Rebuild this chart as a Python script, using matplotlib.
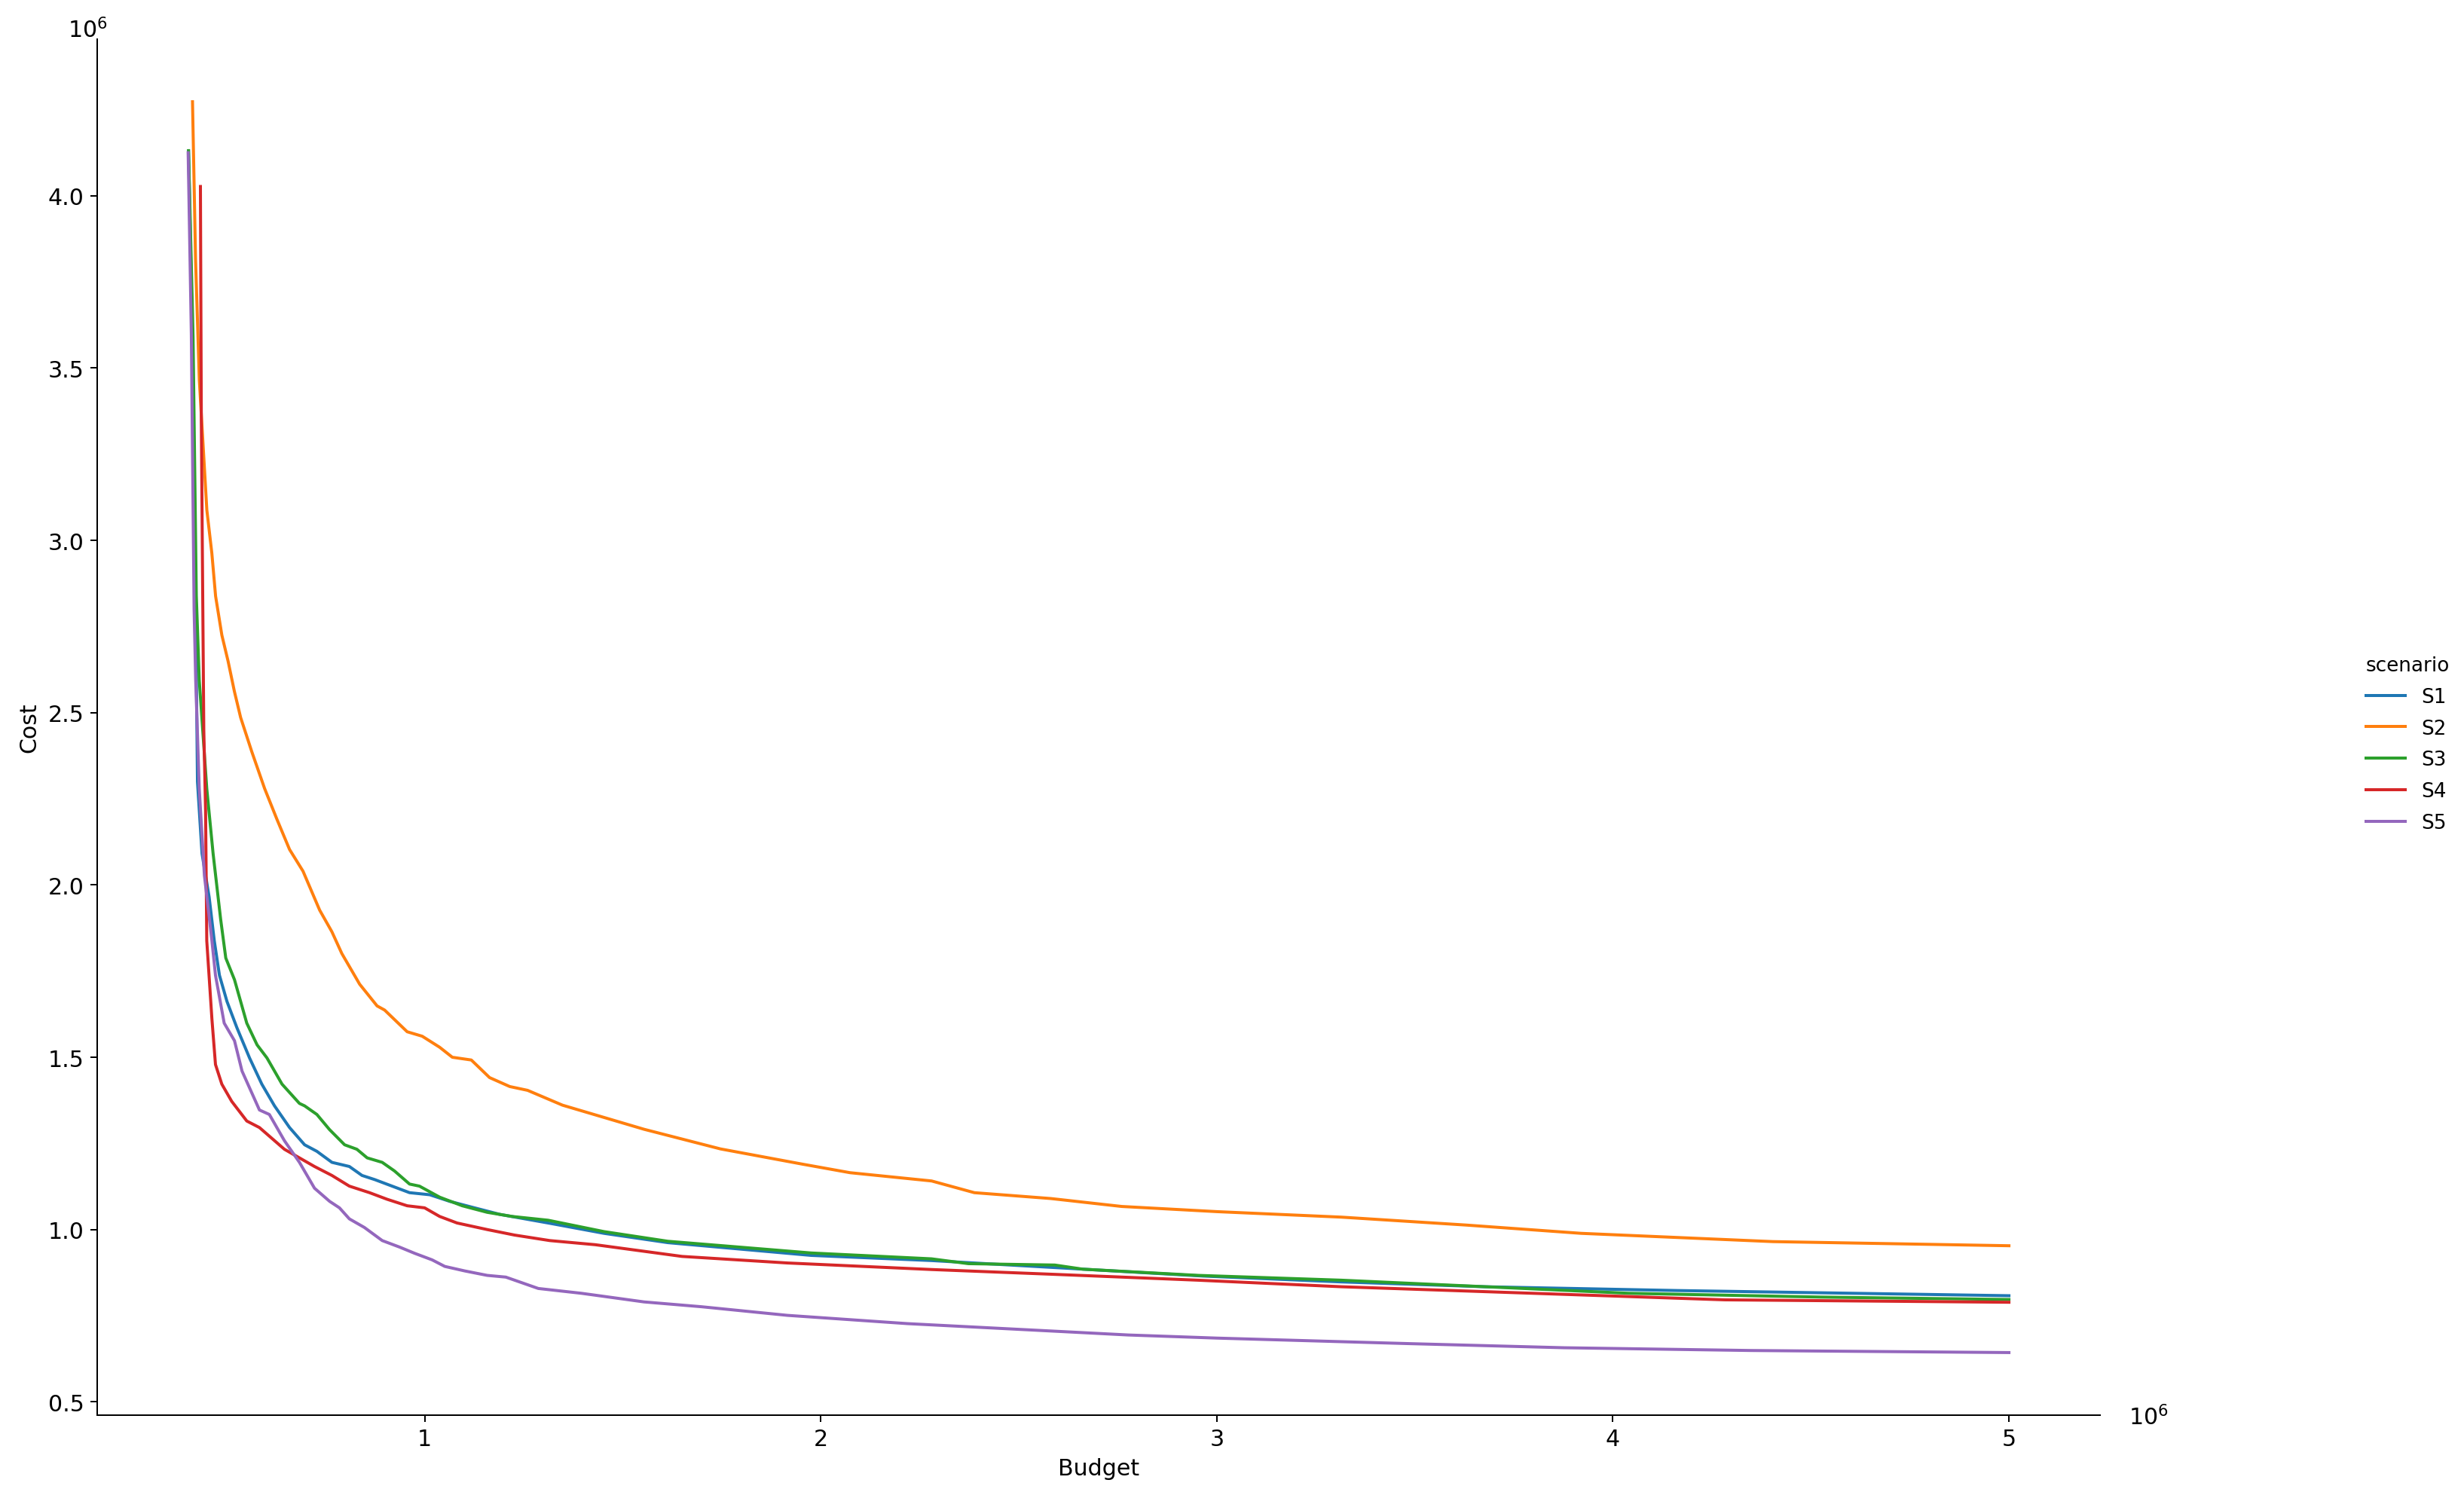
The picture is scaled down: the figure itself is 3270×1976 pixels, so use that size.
import matplotlib
matplotlib.use("Agg")
import matplotlib.pyplot as plt

# Budget / Cost values in millions
s1_budget = [0.404, 0.4135, 0.4217, 0.4265, 0.438, 0.456, 0.469, 0.482, 0.501, 0.526, 0.558, 0.589,
             0.621, 0.659, 0.697, 0.728, 0.766, 0.810, 0.842, 0.874, 0.918, 0.962, 1.013, 1.063,
             1.126, 1.190, 1.317, 1.453, 1.614, 1.976, 2.280, 2.617, 2.966, 3.315, 3.679, 4.163, 5.000]
s1_cost = [4.130, 3.59, 2.84, 2.30, 2.091, 1.965, 1.838, 1.738, 1.662, 1.586, 1.498, 1.422,
           1.359, 1.296, 1.246, 1.227, 1.195, 1.183, 1.157, 1.145, 1.126, 1.107, 1.101, 1.082,
           1.063, 1.044, 1.018, 0.989, 0.962, 0.925, 0.910, 0.888, 0.865, 0.848, 0.834, 0.823, 0.808]

s2_budget = [0.414, 0.4217, 0.4312, 0.4407, 0.4502, 0.4628, 0.4723, 0.4881, 0.5039, 0.5197, 0.5355,
             0.5639, 0.596, 0.627, 0.659, 0.693, 0.735, 0.766, 0.791, 0.836, 0.880, 0.899, 0.956,
             0.994, 1.038, 1.070, 1.118, 1.164, 1.215, 1.260, 1.348, 1.554, 1.747, 1.953, 2.074,
             2.280, 2.388, 2.581, 2.760, 3.000, 3.315, 3.630, 3.920, 4.404, 5.000]
s2_cost = [4.273, 3.816, 3.465, 3.277, 3.088, 2.963, 2.838, 2.725, 2.649, 2.562, 2.486,
           2.386, 2.280, 2.191, 2.103, 2.040, 1.927, 1.864, 1.801, 1.712, 1.649, 1.637, 1.574,
           1.561, 1.529, 1.500, 1.492, 1.441, 1.415, 1.404, 1.361, 1.291, 1.234, 1.190, 1.165,
           1.141, 1.107, 1.090, 1.067, 1.052, 1.036, 1.013, 0.989, 0.965, 0.953]

s3_budget = [0.404, 0.4154, 0.4236, 0.431, 0.450, 0.466, 0.485, 0.498, 0.520, 0.551, 0.577, 0.602,
             0.640, 0.684, 0.697, 0.728, 0.760, 0.798, 0.829, 0.855, 0.893, 0.924, 0.962, 0.987,
             1.038, 1.095, 1.158, 1.221, 1.312, 1.453, 1.614, 1.976, 2.280, 2.373, 2.591, 2.662,
             2.953, 3.315, 3.679, 4.041, 4.525, 5.000]
s3_cost = [4.131, 3.59, 2.84, 2.595, 2.280, 2.091, 1.901, 1.788, 1.725, 1.599, 1.536, 1.498,
           1.422, 1.366, 1.359, 1.334, 1.290, 1.246, 1.233, 1.208, 1.195, 1.170, 1.132, 1.126,
           1.094, 1.069, 1.050, 1.038, 1.027, 0.994, 0.966, 0.932, 0.915, 0.901, 0.897, 0.885,
           0.867, 0.853, 0.834, 0.815, 0.804, 0.797]

s4_budget = [0.434, 0.4363, 0.4425, 0.447, 0.450, 0.463, 0.472, 0.488, 0.513, 0.551, 0.583, 0.621,
             0.646, 0.684, 0.722, 0.766, 0.810, 0.861, 0.905, 0.956, 1.000, 1.038, 1.082, 1.158,
             1.227, 1.316, 1.431, 1.650, 1.916, 2.280, 2.590, 2.953, 3.315, 3.799, 4.283, 5.000]
s4_cost = [4.027, 3.34, 2.45, 2.217, 1.838, 1.611, 1.479, 1.422, 1.372, 1.315, 1.296, 1.258,
           1.233, 1.208, 1.183, 1.157, 1.126, 1.107, 1.088, 1.069, 1.063, 1.038, 1.019, 1.000,
           0.984, 0.968, 0.956, 0.922, 0.903, 0.884, 0.870, 0.853, 0.834, 0.815, 0.796, 0.789]

s5_budget = [0.403, 0.411, 0.418, 0.422, 0.431, 0.444, 0.463, 0.472, 0.494, 0.520, 0.539, 0.583,
             0.608, 0.646, 0.684, 0.722, 0.760, 0.785, 0.810, 0.848, 0.893, 0.937, 0.975, 1.019,
             1.051, 1.101, 1.158, 1.205, 1.287, 1.396, 1.554, 1.699, 1.916, 2.219, 2.642, 2.777,
             3.000, 3.484, 3.877, 4.349, 5.000]
s5_cost = [4.125, 3.60, 2.80, 2.595, 2.280, 2.028, 1.838, 1.738, 1.599, 1.548, 1.460, 1.347,
           1.334, 1.258, 1.195, 1.120, 1.082, 1.063, 1.031, 1.006, 0.968, 0.949, 0.931, 0.912,
           0.893, 0.880, 0.867, 0.862, 0.829, 0.815, 0.790, 0.776, 0.751, 0.727, 0.702, 0.694,
           0.685, 0.669, 0.657, 0.649, 0.643]

scenarios = ["S1", "S2", "S3", "S4", "S5"]
budgets = [s1_budget, s2_budget, s3_budget, s4_budget, s5_budget]
costs = [s1_cost, s2_cost, s3_cost, s4_cost, s5_cost]
colors = ["#1f77b4", "#ff7f0e", "#2ca02c", "#d62728", "#9467bd"]

plt.rcParams["font.family"] = ["DejaVu Sans"]
plt.rcParams["font.size"] = 12

fig = plt.figure(figsize=(3271 / 180, 1977 / 180), dpi=180)
ax = fig.add_axes([0.0394, 0.0496, 0.8126, 0.9236])

for name, xs, ys, c in zip(scenarios, budgets, costs, colors):
    ax.plot([x * 1e6 for x in xs], [y * 1e6 for y in ys], color=c, lw=1.6, label=name)

ax.spines["top"].set_visible(False)
ax.spines["right"].set_visible(False)
ax.tick_params(labelsize=12)
ax.set_xlabel("Budget", fontsize=12)
ax.set_ylabel("Cost", fontsize=12)

# offset text drawn by hand as "10^6"
ax.xaxis.get_offset_text().set_visible(False)
ax.yaxis.get_offset_text().set_visible(False)
fig.text(2825 / 3271, 1 - 1891 / 1977, "10$^{6}$", fontsize=12, ha="left", va="baseline")
fig.text(90 / 3271, 1 - 50 / 1977, "10$^{6}$", fontsize=12, ha="left", va="baseline")

handles, labels = ax.get_legend_handles_labels()
leg = fig.legend(handles, labels, title="scenario", loc="center left",
                 bbox_to_anchor=(0.9527, 0.5), frameon=False, fontsize=10.5,
                 title_fontsize=10.5, labelspacing=0.6)
leg._legend_box.align = "left"

fig.savefig("out.png", dpi=180)
